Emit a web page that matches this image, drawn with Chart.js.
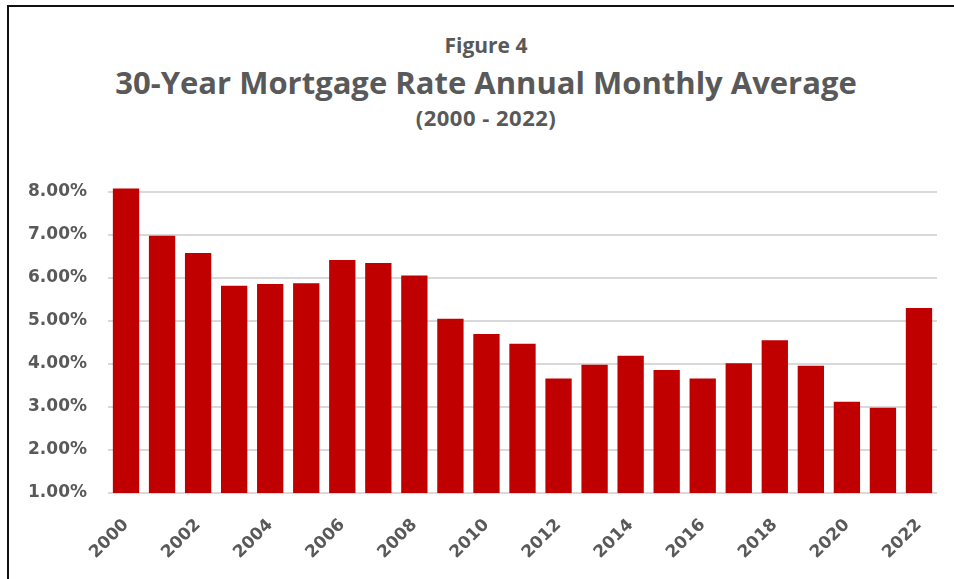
<!DOCTYPE html>
<html>
<head>
<meta charset="utf-8">
<script src="https://cdn.jsdelivr.net/npm/chart.js@4.4.1/dist/chart.umd.min.js"></script>
<style>
    html, body { margin: 0; padding: 0; background: #fff; overflow: hidden; }
    body { width: 954px; height: 579px; position: relative; }
    .edge { position: absolute; background: #111; }
    #edgeTop { left: 7px; top: 5px; width: 947px; height: 2px; }
    #edgeLeft { left: 7px; top: 5px; width: 2px; height: 574px; }
    .t { position: absolute; left: 0; width: 972px; text-align: center; color: #595959;
         font-family: "Open Sans", sans-serif; font-weight: bold; white-space: nowrap; }
    #fig { top: 31px; font-size: 21px; }
    #main { top: 61px; font-size: 31px; }
    #sub { top: 102px; font-size: 22px; letter-spacing: 0.5px; }
    #wrap { position: absolute; left: 0; top: 0; width: 954px; height: 579px; }
</style>
</head>
<body>
<div id="edgeTop" class="edge"></div>
<div id="edgeLeft" class="edge"></div>
<div id="fig" class="t">Figure 4</div>
<div id="main" class="t">30-Year Mortgage Rate Annual Monthly Average</div>
<div id="sub" class="t">(2000 - 2022)</div>
<div id="wrap"><canvas id="chart"></canvas></div>
<script>
    // years and annual average 30-year rate (%)
    const years = ['2000', '2001', '2002', '2003', '2004', '2005', '2006', '2007', '2008', '2009', '2010', '2011',
        '2012', '2013', '2014', '2015', '2016', '2017', '2018', '2019', '2020', '2021', '2022'];
    const rates = [8.08, 6.98, 6.58, 5.82, 5.86, 5.88, 6.42, 6.35, 6.06, 5.05, 4.70, 4.47,
        3.66, 3.98, 4.19, 3.86, 3.66, 4.02, 4.55, 3.96, 3.12, 2.98, 5.30];
    const yTicks = [1, 2, 3, 4, 5, 6, 7, 8];

    const grey = '#595959';
    const tickFont = { family: '"DejaVu Sans", sans-serif', weight: 'bold', size: 17 };

    new Chart(document.getElementById('chart'), {
        type: 'bar',
        data: {
            labels: years,
            datasets: [{
                label: '30-Year Mortgage Rate',
                data: rates,
                backgroundColor: '#c00000',
                borderWidth: 0,
                // let the 2000 bar poke above the 8% line, keep bottom clipped at 1%
                clip: { left: 0, top: 10, right: 0, bottom: 0 },
                categoryPercentage: 1,
                barPercentage: 0.73
            }]
        },
        options: {
            responsive: true,
            maintainAspectRatio: false,
            animation: false,
            layout: { padding: { top: 192, right: 17, left: 0, bottom: 0 } },
            plugins: {
                legend: { display: false },
                tooltip: { enabled: false }
            },
            scales: {
                x: {
                    grid: { display: false },
                    border: { display: false },
                    afterFit: (scale) => { scale.height = 86; },
                    ticks: {
                        color: grey,
                        font: tickFont,
                        autoSkip: false,
                        minRotation: 45,
                        maxRotation: 45,
                        padding: 14,
                        callback: function (value, index) {
                            return index % 2 === 0 ? this.getLabelForValue(value) : '';
                        }
                    }
                },
                y: {
                    min: 1,
                    max: 8,
                    afterFit: (scale) => { scale.width = 108; },
                    afterBuildTicks: (scale) => { scale.ticks = yTicks.map(v => ({ value: v })); },
                    border: { display: false },
                    grid: { color: '#d9d9d9', lineWidth: 2, drawTicks: false },
                    ticks: {
                        color: grey,
                        font: tickFont,
                        padding: 21,
                        callback: (v) => v.toFixed(2) + '%'
                    }
                }
            }
        }
    });
</script>
</body>
</html>
